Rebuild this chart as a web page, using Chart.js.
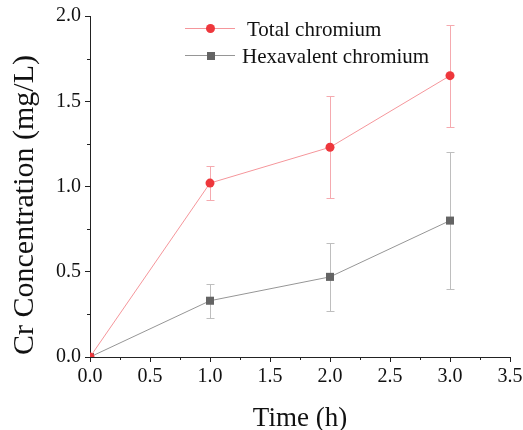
<!DOCTYPE html>
<html>
<head>
<meta charset="utf-8">
<script src="https://cdn.jsdelivr.net/npm/chart.js@4"></script>
<style>
  html, body { margin: 0; padding: 0; background: #fff; }
  #wrap { width: 523px; height: 430px; }
</style>
</head>
<body>
<div id="wrap"><canvas id="crChart" width="523" height="430"></canvas></div>
<script>
const timeH = [0, 1, 2, 3];
const totalCr = [0, 1.02, 1.23, 1.65];
const totalErr = [0, 0.1, 0.3, 0.3];
const hexCr = [0, 0.33, 0.47, 0.80];
const hexErr = [0, 0.1, 0.2, 0.4];
const xTicks = [0, 0.5, 1, 1.5, 2, 2.5, 3, 3.5];
const yTicks = [0, 0.5, 1, 1.5, 2];
const xTitle = 'Time (h)';
const yTitle = 'Cr Concentration (mg/L)';

const FONT = '"Liberation Serif", "Times New Roman", serif';

// error bars, minor ticks, titles and legend are drawn by hand
const extras = {
  id: 'extras',
  beforeDatasetsDraw(chart) {
    const ctx = chart.ctx;
    const xs = chart.scales.x, ys = chart.scales.y;
    ctx.save();
    ctx.lineWidth = 1;
    [[totalCr, totalErr, 'rgb(245,170,175)'], [hexCr, hexErr, 'rgb(190,190,190)']].forEach(([vals, errs, col]) => {
      ctx.strokeStyle = col;
      vals.forEach((v, i) => {
        if (!errs[i]) return;
        const px = Math.round(xs.getPixelForValue(timeH[i])) + 0.5;
        const top = Math.round(ys.getPixelForValue(v + errs[i])) + 0.5;
        const bot = Math.round(ys.getPixelForValue(v - errs[i])) + 0.5;
        ctx.beginPath();
        ctx.moveTo(px, top); ctx.lineTo(px, bot);
        ctx.moveTo(px - 4, top); ctx.lineTo(px + 4, top);
        ctx.moveTo(px - 4, bot); ctx.lineTo(px + 4, bot);
        ctx.stroke();
      });
    });
    // minor ticks
    ctx.strokeStyle = '#222';
    const area = chart.chartArea;
    for (let i = 0; i < xTicks.length - 1; i++) {
      const px = Math.round(xs.getPixelForValue((xTicks[i] + xTicks[i + 1]) / 2)) + 0.5;
      ctx.beginPath(); ctx.moveTo(px, area.bottom); ctx.lineTo(px, area.bottom + 3); ctx.stroke();
    }
    for (let i = 0; i < yTicks.length - 1; i++) {
      const py = Math.round(ys.getPixelForValue((yTicks[i] + yTicks[i + 1]) / 2)) + 0.5;
      ctx.beginPath(); ctx.moveTo(area.left, py); ctx.lineTo(area.left - 3, py); ctx.stroke();
    }
    ctx.restore();
  },
  afterDraw(chart) {
    const ctx = chart.ctx;
    const area = chart.chartArea;
    ctx.save();
    ctx.fillStyle = '#111';
    // axis titles
    ctx.font = '27px ' + FONT;
    ctx.textAlign = 'center';
    ctx.textBaseline = 'alphabetic';
    ctx.fillText(xTitle, (area.left + area.right) / 2, 426);
    ctx.save();
    ctx.translate(33, 205);
    ctx.rotate(-Math.PI / 2);
    ctx.font = '30px ' + FONT;
    ctx.fillText(yTitle, 0, 0);
    ctx.restore();
    // legend
    ctx.font = '21px ' + FONT;
    ctx.textAlign = 'left';
    ctx.strokeStyle = 'rgb(245,150,155)';
    ctx.beginPath(); ctx.moveTo(185, 28.5); ctx.lineTo(235, 28.5); ctx.stroke();
    ctx.fillStyle = 'rgb(238,55,60)';
    ctx.beginPath(); ctx.arc(210.5, 28.5, 4.5, 0, Math.PI * 2); ctx.fill();
    ctx.fillStyle = '#111';
    ctx.fillText(chart.data.datasets[0].label, 247, 36);
    ctx.strokeStyle = 'rgb(150,150,150)';
    ctx.beginPath(); ctx.moveTo(185, 55.5); ctx.lineTo(235, 55.5); ctx.stroke();
    ctx.fillStyle = 'rgb(100,100,100)';
    ctx.fillRect(207, 52, 8, 8);
    ctx.fillStyle = '#111';
    ctx.fillText(chart.data.datasets[1].label, 242, 63);
    ctx.restore();
  }
};

const ctx = document.getElementById('crChart').getContext('2d');
const chart = new Chart(ctx, {
  type: 'line',
  data: {
    datasets: [{
      label: 'Total chromium',
      data: timeH.map((t, i) => ({ x: t, y: totalCr[i] })),
      borderColor: 'rgb(245,150,155)',
      borderWidth: 1,
      pointStyle: 'circle',
      pointRadius: 4.5,
      pointBackgroundColor: 'rgb(238,55,60)',
      pointBorderColor: 'rgb(238,55,60)',
      pointBorderWidth: 0,
      tension: 0
    }, {
      label: 'Hexavalent chromium',
      data: timeH.map((t, i) => ({ x: t, y: hexCr[i] })),
      borderColor: 'rgb(150,150,150)',
      borderWidth: 1,
      pointStyle: 'rect',
      pointRadius: 5.7,
      pointBackgroundColor: 'rgb(100,100,100)',
      pointBorderColor: 'rgb(100,100,100)',
      pointBorderWidth: 0,
      tension: 0
    }]
  },
  options: {
    responsive: false,
    animation: false,
    layout: { padding: { top: 13, right: 13, left: 0, bottom: 0 } },
    plugins: {
      legend: { display: false },
      tooltip: { enabled: false }
    },
    scales: {
      x: {
        type: 'linear',
        min: 0,
        max: 3.5,
        afterBuildTicks: s => { s.ticks = xTicks.map(v => ({ value: v })); },
        ticks: {
          color: '#111',
          font: { family: FONT, size: 20 },
          padding: 3,
          maxRotation: 0,
          autoSkip: false,
          callback: v => v.toFixed(1)
        },
        grid: { drawOnChartArea: false, drawTicks: true, tickLength: 5, color: '#222' },
        border: { display: true, color: '#222', width: 1 },
        afterFit: s => { s.height = 73; s.paddingRight = 0; s.paddingLeft = 0; }
      },
      y: {
        type: 'linear',
        min: 0,
        max: 2,
        afterBuildTicks: s => { s.ticks = yTicks.map(v => ({ value: v })); },
        ticks: {
          color: '#111',
          font: { family: FONT, size: 20 },
          padding: 4,
          callback: v => v.toFixed(1)
        },
        grid: { drawOnChartArea: false, drawTicks: true, tickLength: 5, color: '#222' },
        border: { display: true, color: '#222', width: 1 },
        afterFit: s => { s.width = 90; }
      }
    }
  },
  plugins: [extras]
});
</script>
</body>
</html>
